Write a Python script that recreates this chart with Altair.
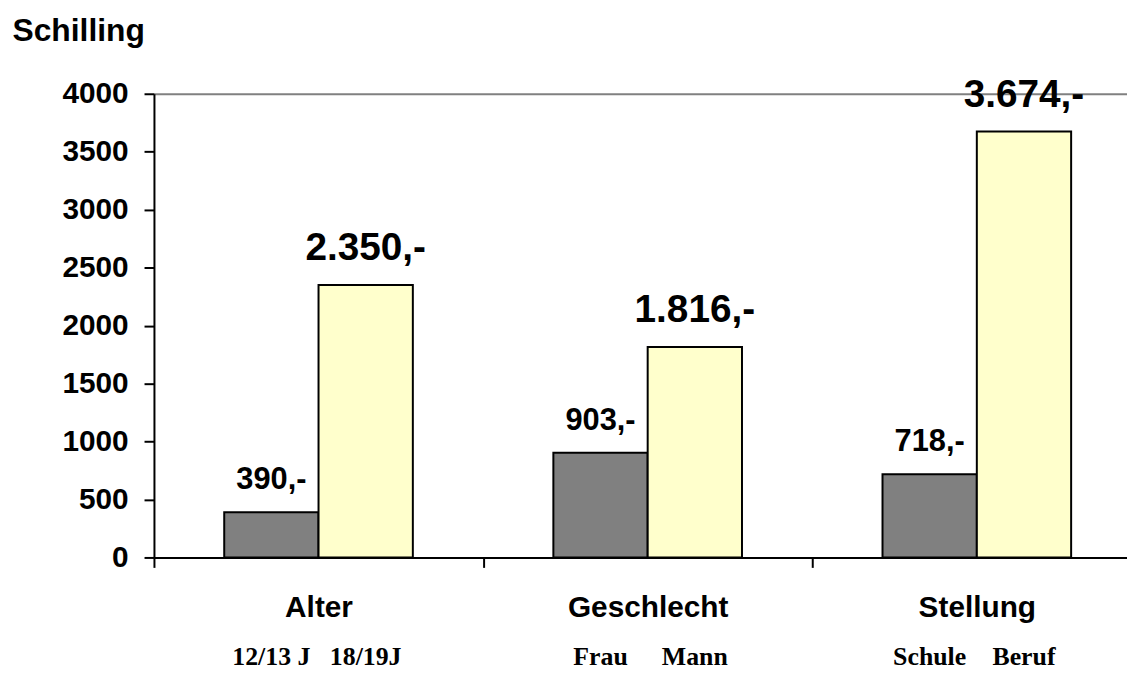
import altair as alt
import pandas as pd

categories = ["Alter", "Geschlecht", "Stellung"]
series = ["Gruppe 1", "Gruppe 2"]
values_1 = [390, 903, 718]
values_2 = [2350, 1816, 3674]
sub_labels_1 = ["12/13 J", "Frau", "Schule"]
sub_labels_2 = ["18/19J", "Mann", "Beruf"]
y_ticks = [0, 500, 1000, 1500, 2000, 2500, 3000, 3500, 4000]


def de_label(v):
    return f"{v:,}".replace(",", ".") + ",-"


rows = []
for i, c in enumerate(categories):
    rows.append({"category": c, "series": series[0], "value": values_1[i],
                 "label": de_label(values_1[i]), "sub": sub_labels_1[i]})
    rows.append({"category": c, "series": series[1], "value": values_2[i],
                 "label": de_label(values_2[i]), "sub": sub_labels_2[i]})
df = pd.DataFrame(rows)

SANS = "Liberation Sans"
SERIF = "Liberation Serif"

base = alt.Chart(df).encode(
    x=alt.X(
        "category:N",
        sort=categories,
        scale=alt.Scale(paddingInner=0, paddingOuter=0, range=[0, 994.5]),
        axis=alt.Axis(
            title=None,
            labelAngle=0,
            labelFont=SANS,
            labelFontSize=30,
            labelFontWeight="bold",
            labelColor="black",
            labelBaseline="alphabetic",
            labelPadding=49,
            tickBand="extent",
            tickSize=10,
            tickWidth=2,
            tickColor="black",
            domainColor="black",
            domainWidth=2,
            grid=False,
        ),
    ),
    xOffset=alt.XOffset("series:N", sort=series,
                        scale=alt.Scale(paddingInner=0, paddingOuter=0.745)),
    y=alt.Y(
        "value:Q",
        scale=alt.Scale(domain=[0, 4000], nice=False),
        axis=alt.Axis(
            values=y_ticks,
            format="d",
            labelFont=SANS,
            labelFontSize=30,
            labelFontWeight="bold",
            labelColor="black",
            labelPadding=16,
            tickSize=10,
            tickWidth=2,
            tickColor="black",
            domainColor="black",
            domainWidth=2,
            grid=True,
            gridWidth=2,
            gridColor={"condition": {"test": "datum.value === 4000", "value": "#808080"},
                       "value": "transparent"},
            title="Schilling",
            titleAngle=0,
            titleAlign="left",
            titleBaseline="alphabetic",
            titleX=-143,
            titleY=-54,
            titleFont=SANS,
            titleFontSize=32,
            titleFontWeight="bold",
            titleColor="black",
        ),
    ),
)

bars = base.mark_bar(stroke="black", strokeWidth=2).encode(
    color=alt.Color("series:N", scale=alt.Scale(domain=series, range=["#808080", "#FFFFCC"]),
                    legend=None)
)

small_labels = base.transform_filter(alt.datum.series == series[0]).mark_text(
    font=SANS, fontSize=31, fontWeight="bold", baseline="alphabetic", dy=-23, color="black"
).encode(text="label:N")

big_labels = base.transform_filter(alt.datum.series == series[1]).mark_text(
    font=SANS, fontSize=39, fontWeight="bold", baseline="alphabetic", dy=-25, color="black"
).encode(text="label:N")

sub_labels = base.mark_text(
    font=SERIF, fontSize=26, fontWeight="bold", baseline="alphabetic", color="black"
).encode(y=alt.value(575), text="sub:N")

chart = alt.layer(bars, small_labels, big_labels, sub_labels).properties(
    width=980,
    height=467,
    autosize=alt.AutoSizeParams(type="none"),
    padding={"left": 147, "top": 84, "right": 0, "bottom": 113},
).configure_view(stroke=None)

chart.save("out.html", embed_options={"renderer": "svg", "actions": False})
